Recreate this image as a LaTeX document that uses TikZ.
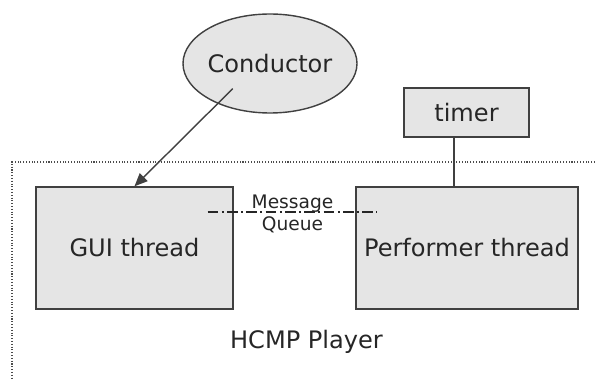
\documentclass[tikz,border=0pt]{standalone}
\usepackage{fontspec}
\setmainfont{DejaVu Sans}
\usetikzlibrary{arrows.meta, positioning, shapes.geometric}

\begin{document}
\begin{tikzpicture}[
      every node/.style={text=black!85},
      blk/.style={draw=black!75, fill=gray!20, line width=0.8pt,
                  font=\fontsize{13.7}{16}\selectfont, align=center},
      actor/.style={blk, ellipse, inner sep=0pt},
      arr/.style={-{Triangle[length=0.26cm, width=0.22cm]}, draw=black!75, line width=0.8pt},
      wire/.style={draw=black!75, line width=0.8pt},
      mq/.style={draw=black!85, line width=1.1pt,
                 dash pattern=on 6pt off 2pt on 1pt off 2pt},
      frame/.style={draw=black!70, line width=0.6pt, densely dotted},
      lbl/.style={font=\fontsize{13.7}{16}\selectfont},
      note/.style={font=\fontsize{10.6}{12}\selectfont, inner sep=0pt}]

    \useasboundingbox (0,0) rectangle (11.9,7.56);

    % player frame (open to the right and bottom)
    \coordinate (ftr) at (11.9, 4.32);
    \coordinate (ftl) at (0.24, 4.32);
    \coordinate (fbl) at (0.24, 0);
    \draw[frame] (ftr) -- (ftl) -- (fbl);

    % ============================================
    % nodes
    % ============================================
    \node[actor, minimum width=3.48cm, minimum height=1.98cm,
          label={[lbl]center:Conductor}] (cond) at (5.40, 6.29) {};
    \node[blk, minimum width=2.5cm, minimum height=0.98cm] (timer) at (9.33, 5.31) {timer};
    \node[blk, minimum width=3.94cm, minimum height=2.44cm] (gui) at (2.69, 2.60) {GUI thread};
    \node[blk, minimum width=4.44cm, minimum height=2.44cm] (perf) at (9.34, 2.60) {Performer thread};
    \node[lbl] (player) at (6.13, 0.72) {HCMP Player};

    % ============================================
    % connectors
    % ============================================
    \draw[arr] ([shift={(-0.746,-0.504)}]cond.center) -- (gui.north);
    \draw[wire] ([xshift=-0.25cm]timer.south) -- ([xshift=-0.25cm]timer.south |- perf.north);

    % message queue between the two threads
    \draw[mq] ([shift={(-0.52,0.72)}]gui.east) -- ([shift={(0.44,0.72)}]perf.west)
        node[note, pos=0.5, anchor=base, yshift=0.07cm] (msg) {Message}
        node[note, pos=0.5, anchor=north, yshift=-0.08cm] (queue) {Queue};

\end{tikzpicture}
\end{document}
